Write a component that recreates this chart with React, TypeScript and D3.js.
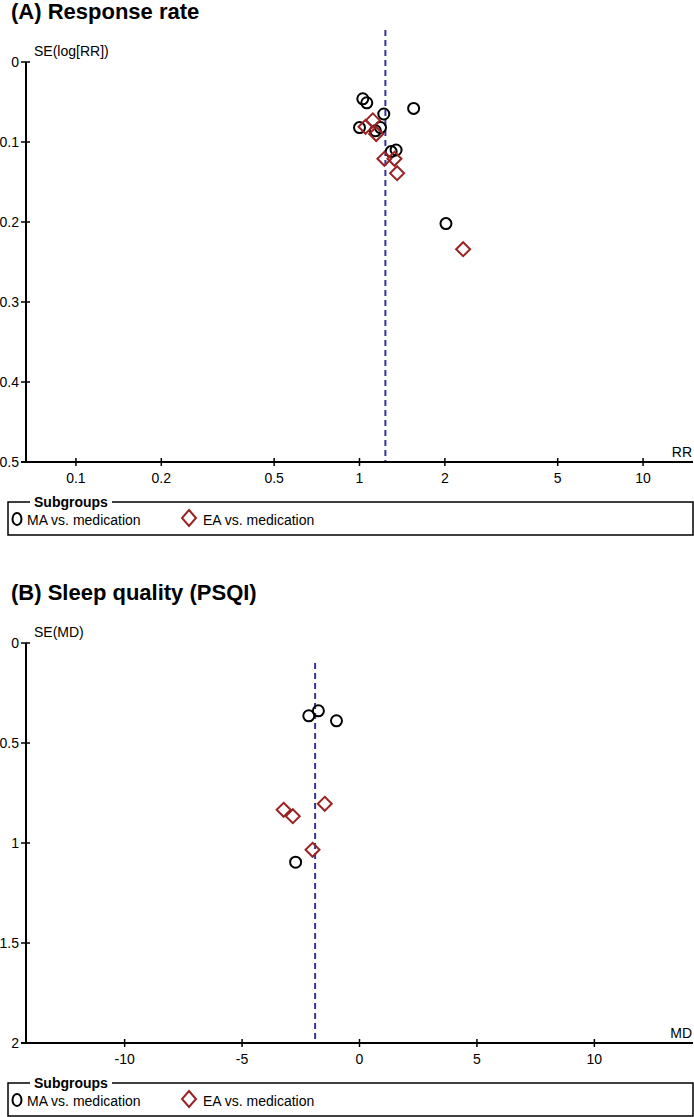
import * as d3 from "d3";

// panel A: response rate (RR, log scale)
const rrTicks = [0.1, 0.2, 0.5, 1, 2, 5, 10];
const rrSeTicks = [0, 0.1, 0.2, 0.3, 0.4, 0.5];
const rrMaRR = [1.027, 1.061, 1.218, 1.552, 1.0, 1.138, 1.186, 1.293, 1.346, 2.018];
const rrMaSE = [0.046, 0.051, 0.065, 0.058, 0.082, 0.086, 0.082, 0.112, 0.11, 0.202];
const rrEaRR = [1.114, 1.05, 1.145, 1.224, 1.328, 1.357, 2.32];
const rrEaSE = [0.073, 0.081, 0.09, 0.121, 0.121, 0.139, 0.234];
const rrPooled = 1.234;

// panel B: sleep quality (MD)
const mdTicks = [-10, -5, 0, 5, 10];
const mdSeTicks = [0, 0.5, 1, 1.5, 2];
const mdMaMD = [-2.16, -1.75, -0.98, -2.72];
const mdMaSE = [0.364, 0.339, 0.389, 1.096];
const mdEaMD = [-3.23, -2.84, -1.48, -2.0];
const mdEaSE = [0.834, 0.866, 0.804, 1.034];
const mdPooled = -1.89;

const legendLabels = ["MA vs. medication", "EA vs. medication"];

const W = 694;
const FONT = "'Liberation Sans', Arial, sans-serif";
const RED = "#9a2424";
const BLUE = "#333399";

const diamond = (cx, cy, rx, ry) =>
  `M${cx},${cy - ry}L${cx + rx},${cy}L${cx},${cy + ry}L${cx - rx},${cy}Z`;

const Panel = ({ top, title, yLabel, xLabel, x, xTicks, yDomain, yTicks, maX, maSE, eaX, eaSE, pooled, lineTopSE }) => {
  const y0 = top + 62;
  const ay = top + 462;
  const ax = 26;
  const y = d3.scaleLinear().domain(yDomain).range([y0, ay]);
  const fmt = (v) => String(v);

  return (
    <g fontFamily={FONT}>
      <text x={11} y={top + 19} fontSize={22} fontWeight="bold">{title}</text>
      <text x={34} y={y0 - 6} fontSize={14}>{yLabel}</text>

      {/* pooled estimate */}
      <line x1={x(pooled)} x2={x(pooled)} y1={y(lineTopSE)} y2={ay} stroke={BLUE} strokeWidth={2} strokeDasharray="6,4" />

      {/* axes */}
      <line x1={ax} x2={ax} y1={y0} y2={ay} stroke="#000" strokeWidth={2} />
      <line x1={21} x2={693} y1={ay} y2={ay} stroke="#000" strokeWidth={2} />
      {yTicks.map((t) => (
        <g key={"y" + t}>
          <line x1={ax - 5} x2={ax + 4} y1={y(t)} y2={y(t)} stroke="#000" strokeWidth={1.5} />
          <text x={19} y={y(t) + 5} fontSize={14} textAnchor="end">{fmt(t)}</text>
        </g>
      ))}
      {xTicks.map((t) => (
        <g key={"x" + t}>
          <line x1={x(t)} x2={x(t)} y1={ay - 4} y2={ay + 4} stroke="#000" strokeWidth={1.5} />
          <text x={x(t)} y={ay + 21} fontSize={14} textAnchor="middle">{fmt(t)}</text>
        </g>
      ))}
      <text x={692} y={ay - 5} fontSize={14} textAnchor="end">{xLabel}</text>

      {/* studies */}
      {maX.map((v, i) => (
        <circle key={"ma" + i} cx={x(v)} cy={y(maSE[i])} r={5.5} fill="none" stroke="#000" strokeWidth={2} />
      ))}
      {eaX.map((v, i) => (
        <path key={"ea" + i} d={diamond(x(v), y(eaSE[i]), 7, 7)} fill="none" stroke={RED} strokeWidth={2} />
      ))}

      {/* legend */}
      <path
        d={`M30,${ay + 40}H8V${ay + 73}H693V${ay + 40}H112`}
        fill="none"
        stroke="#000"
        strokeWidth={1.5}
      />
      <text x={34} y={ay + 45} fontSize={14} fontWeight="bold">Subgroups</text>
      <ellipse cx={17} cy={ay + 57} rx={4.5} ry={6} fill="none" stroke="#000" strokeWidth={2} />
      <text x={27} y={ay + 63} fontSize={14}>{legendLabels[0]}</text>
      <path d={diamond(189, ay + 56, 7, 8)} fill="none" stroke={RED} strokeWidth={2} />
      <text x={203} y={ay + 63} fontSize={14}>{legendLabels[1]}</text>
    </g>
  );
};

export default function App() {
  const xRR = d3.scaleLog().domain([1 / 15, 15]).range([26, 693]);
  const xMD = d3.scaleLinear().domain([-14.2, 14.2]).range([26, 693]);

  return (
    <svg width={W} height={1117} style={{ position: "absolute", left: 0, top: 0 }}>
      <rect width={W} height={1117} fill="#fff" />
      <Panel
        top={0}
        title="(A) Response rate"
        yLabel="SE(log[RR])"
        xLabel="RR"
        x={xRR}
        xTicks={rrTicks}
        yDomain={[0, 0.5]}
        yTicks={rrSeTicks}
        maX={rrMaRR}
        maSE={rrMaSE}
        eaX={rrEaRR}
        eaSE={rrEaSE}
        pooled={rrPooled}
        lineTopSE={-0.04}
      />
      <Panel
        top={581}
        title="(B) Sleep quality (PSQI)"
        yLabel="SE(MD)"
        xLabel="MD"
        x={xMD}
        xTicks={mdTicks}
        yDomain={[0, 2]}
        yTicks={mdSeTicks}
        maX={mdMaMD}
        maSE={mdMaSE}
        eaX={mdEaMD}
        eaSE={mdEaSE}
        pooled={mdPooled}
        lineTopSE={0.1}
      />
    </svg>
  );
}
